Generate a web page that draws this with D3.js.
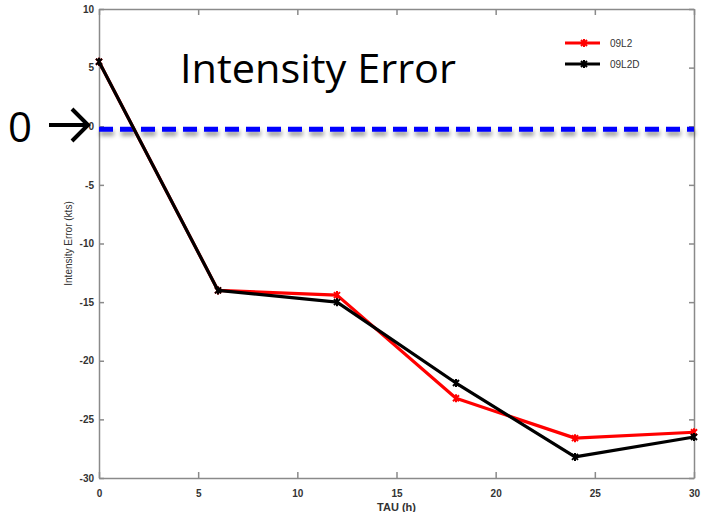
<!DOCTYPE html>
<html>
<head>
<meta charset="utf-8">
<script src="https://cdn.jsdelivr.net/npm/d3@7/dist/d3.min.js"></script>
<style>
  body { margin: 0; background: #fff; }
  svg { display: block; }
  .tick text { font-family: "Liberation Sans", Arial, sans-serif; font-weight: bold; fill: #333; }
</style>
</head>
<body>
<script>
// data
var tau = [0, 6, 12, 18, 24, 30];
var err09L2 = [5.5, -14.0, -14.4, -23.2, -26.6, -26.1];
var err09L2D = [5.5, -14.0, -15.0, -21.9, -28.2, -26.5];
var seriesNames = ['09L2', '09L2D'];
var seriesColors = ['#ff0000', '#000000'];
var xTicks = [0, 5, 10, 15, 20, 25, 30];
var yTicks = [10, 5, 0, -5, -10, -15, -20, -25, -30];
var zeroLine = -0.25;

var width = 701, height = 512;
var margin = {left: 99, right: 7, top: 9, bottom: 34};

var svg = d3.select('body').append('svg')
    .attr('width', width)
    .attr('height', height);

var x = d3.scaleLinear().domain([0, 30]).range([margin.left, width - margin.right]);
var y = d3.scaleLinear().domain([-30, 10]).range([height - margin.bottom, margin.top]);

// plain hyphen minus, like the original
var fmt = function(d) { return String(d); };

var defs = svg.append('defs');
var shadow = defs.append('filter').attr('id', 'shadow')
    .attr('filterUnits', 'userSpaceOnUse')
    .attr('x', 80).attr('y', y(zeroLine) - 20)
    .attr('width', 640).attr('height', 40);
shadow.append('feDropShadow')
    .attr('dx', 1).attr('dy', 4).attr('stdDeviation', 2)
    .attr('flood-color', '#000').attr('flood-opacity', 0.4);

// axes box, ticks on all sides pointing in
var axisColor = '#8a8a8a';
function styleAxis(g) {
    g.select('.domain').attr('stroke', axisColor).attr('stroke-width', 1.5);
    g.selectAll('.tick line').attr('stroke', axisColor).attr('stroke-width', 1.5);
}

svg.append('g')
    .attr('transform', 'translate(0,' + y(-30) + ')')
    .call(d3.axisBottom(x).tickValues(xTicks).tickFormat(fmt).tickSize(-6).tickSizeOuter(0).tickPadding(12))
    .call(styleAxis)
    .selectAll('text').attr('font-size', 10);

svg.append('g')
    .attr('transform', 'translate(0,' + y(10) + ')')
    .call(d3.axisTop(x).tickValues(xTicks).tickSize(-6).tickSizeOuter(0).tickFormat(''))
    .call(styleAxis);

svg.append('g')
    .attr('transform', 'translate(' + x(0) + ',0)')
    .call(d3.axisLeft(y).tickValues(yTicks).tickFormat(fmt).tickSize(-5).tickSizeOuter(0).tickPadding(5))
    .call(styleAxis)
    .selectAll('text').attr('font-size', 10);

svg.append('g')
    .attr('transform', 'translate(' + x(30) + ',0)')
    .call(d3.axisRight(y).tickValues(yTicks).tickSize(-5).tickSizeOuter(0).tickFormat(''))
    .call(styleAxis);

// axis labels
svg.append('text')
    .attr('x', x(15))
    .attr('y', height - 1)
    .attr('text-anchor', 'middle')
    .attr('font-family', 'Liberation Sans, Arial, sans-serif')
    .attr('font-weight', 'bold')
    .attr('font-size', 11)
    .attr('fill', '#333')
    .text('TAU (h)');

svg.append('text')
    .attr('transform', 'translate(72,' + y(-10) + ') rotate(-90)')
    .attr('text-anchor', 'middle')
    .attr('font-family', 'Liberation Sans, Arial, sans-serif')
    .attr('font-size', 10)
    .attr('fill', '#333')
    .text('Intensity Error (kts)');

// zero reference line
svg.append('line')
    .attr('x1', x(0)).attr('x2', x(30))
    .attr('y1', y(zeroLine)).attr('y2', y(zeroLine))
    .attr('stroke', '#0000ff')
    .attr('stroke-width', 5)
    .attr('stroke-dasharray', '14,7')
    .attr('filter', 'url(#shadow)');

// series lines
var allSeries = [err09L2, err09L2D];
var line = d3.line().x(function(d) { return x(d[0]); }).y(function(d) { return y(d[1]); });

function starMarker(g, cx, cy, color) {
    var s = 3;
    g.append('path')
        .attr('d', 'M' + (cx - s) + ',' + (cy - s) + 'L' + (cx + s) + ',' + (cy + s) +
                   'M' + (cx - s) + ',' + (cy + s) + 'L' + (cx + s) + ',' + (cy - s) +
                   'M' + cx + ',' + (cy - s - 1) + 'L' + cx + ',' + (cy + s + 1))
        .attr('stroke', color)
        .attr('stroke-width', 2);
}

allSeries.forEach(function(vals, i) {
    var pts = tau.map(function(t, j) { return [t, vals[j]]; });
    var g = svg.append('g');
    g.append('path')
        .datum(pts)
        .attr('d', line)
        .attr('fill', 'none')
        .attr('stroke', seriesColors[i])
        .attr('stroke-width', 3.2)
        .attr('stroke-linejoin', 'round');
    pts.forEach(function(p) {
        starMarker(g, x(p[0]), y(p[1]), seriesColors[i]);
    });
});

// legend
var legend = svg.append('g');
seriesNames.forEach(function(name, i) {
    var ly = 43 + i * 21;
    legend.append('line')
        .attr('x1', 565).attr('x2', 600)
        .attr('y1', ly).attr('y2', ly)
        .attr('stroke', seriesColors[i])
        .attr('stroke-width', 3);
    starMarker(legend, 584, ly, seriesColors[i]);
    legend.append('text')
        .attr('x', 610).attr('y', ly + 4)
        .attr('font-family', 'Liberation Sans, Arial, sans-serif')
        .attr('font-size', 10)
        .attr('fill', '#333')
        .text(name);
});

// slide annotations
svg.append('text')
    .attr('x', 180).attr('y', 83)
    .attr('font-family', 'Open Sans, Liberation Sans, sans-serif')
    .attr('font-size', 41)
    .attr('textLength', 276)
    .attr('lengthAdjust', 'spacingAndGlyphs')
    .attr('fill', '#000')
    .text('Intensity Error');

svg.append('text')
    .attr('x', 8).attr('y', 142)
    .attr('font-family', 'Open Sans, Liberation Sans, sans-serif')
    .attr('font-size', 42)
    .attr('fill', '#000')
    .text('0');

svg.append('path')
    .attr('d', 'M49,125 L86,125 M72,109 L88,125 L72,141')
    .attr('fill', 'none')
    .attr('stroke', '#000')
    .attr('stroke-width', 4);
</script>
</body>
</html>
